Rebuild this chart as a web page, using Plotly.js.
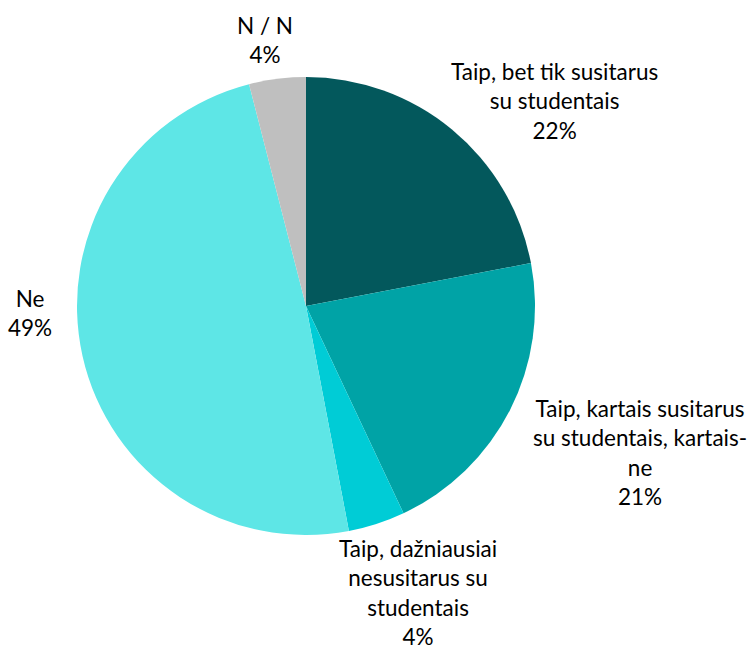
<!DOCTYPE html>
<html>
<head>
<meta charset="utf-8">
<script src="https://cdn.plot.ly/plotly-3.0.1.min.js"></script>
<style>html,body{margin:0;padding:0;background:#fff;}#chart{width:753px;height:649px;}</style>
</head>
<body>
<div id="chart"></div>
<script>
const categories = [
  'Taip, bet tik susitarus su studentais',
  'Taip, kartais susitarus su studentais, kartais- ne',
  'Taip, dažniausiai nesusitarus su studentais',
  'Ne',
  'N / N'
];
const displayLabels = [
  'Taip, bet tik susitarus<br>su studentais',
  'Taip, kartais susitarus<br>su studentais, kartais-<br>ne',
  'Taip, dažniausiai<br>nesusitarus su<br>studentais',
  'Ne',
  'N / N'
];
const values = [22, 21, 4, 49, 4];
const colors = ['#03585C', '#00A3A6', '#00CCD6', '#5EE6E6', '#BFBFBF'];
// label centre positions in pixels (layout only)
const labelPos = [[554, 101], [640, 452], [418, 592], [30, 313], [265, 40]];

const W = 753, H = 649;
const total = values.reduce((a, b) => a + b, 0);
const annotations = categories.map((c, i) => ({
  text: displayLabels[i] + '<br>' + Math.round(values[i] / total * 100) + '%',
  x: labelPos[i][0] / W, y: 1 - labelPos[i][1] / H,
  xref: 'paper', yref: 'paper', xanchor: 'center', yanchor: 'middle',
  showarrow: false, align: 'center',
  font: {family: 'Lato, sans-serif', size: 22.5, color: '#000'}
}));

const cx = 306, cy = 306, r = 229;
Plotly.newPlot('chart', [{
  type: 'pie',
  labels: categories,
  values: values,
  sort: false,
  direction: 'clockwise',
  rotation: 0,
  textinfo: 'none',
  hoverinfo: 'label+percent',
  marker: {colors: colors, line: {width: 0}},
  domain: {x: [(cx - r) / W, (cx + r) / W], y: [1 - (cy + r) / H, 1 - (cy - r) / H]}
}], {
  width: W, height: H,
  margin: {l: 0, r: 0, t: 0, b: 0},
  showlegend: false,
  paper_bgcolor: '#fff',
  annotations: annotations
}, {displayModeBar: false});
</script>
</body>
</html>
